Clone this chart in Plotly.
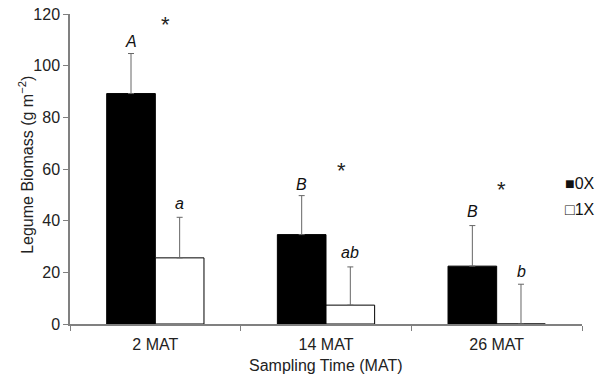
import plotly.graph_objects as go

categories = ["2 MAT", "14 MAT", "26 MAT"]
biomass_0x = [89.2, 34.6, 22.4]
err_0x = [15.5, 15.1, 15.7]
biomass_1x = [25.6, 7.3, 0.0]
err_1x = [15.7, 14.8, 15.4]

letters_0x = ["A", "B", "B"]
letters_0x_y = [109.4, 53.9, 43.4]
letters_1x = ["a", "ab", "b"]
letters_1x_y = [46.5, 27.6, 20.2]
star_x = [0.06, 1.09, 2.03]
star_y = [116, 59.3, 51.9]
legend_names = ["0X", "1X"]

font = "Liberation Sans, Arial, sans-serif"

fig = go.Figure()
fig.add_trace(go.Bar(
    x=categories, y=biomass_0x, name=legend_names[0],
    marker=dict(color="black", line=dict(color="black", width=1)),
    error_y=dict(type="data", array=err_0x, symmetric=False, arrayminus=[0, 0, 0],
                 color="#666666", thickness=1, width=3),
))
fig.add_trace(go.Bar(
    x=categories, y=biomass_1x, name=legend_names[1],
    marker=dict(color="white", line=dict(color="black", width=1)),
    error_y=dict(type="data", array=err_1x, symmetric=False, arrayminus=[0, 0, 0],
                 color="#666666", thickness=1, width=3),
))

ann = []
for i in range(3):
    ann.append(dict(x=i - 0.143, y=letters_0x_y[i], text="<i>" + letters_0x[i] + "</i>", showarrow=False,
                    font=dict(size=16, family=font, color="#111111"), xref="x", yref="y"))
    ann.append(dict(x=i + 0.143, y=letters_1x_y[i], text="<i>" + letters_1x[i] + "</i>", showarrow=False,
                    font=dict(size=16, family=font, color="#111111"), xref="x", yref="y"))
    ann.append(dict(x=star_x[i], y=star_y[i], text="*", showarrow=False,
                    font=dict(size=22, family=font, color="#222222"), xref="x", yref="y"))

# legend drawn as text entries
ann.append(dict(x=1.0, y=54.3, xref="paper", yref="y", text="■" + legend_names[0], showarrow=False,
                xanchor="left", yanchor="middle", font=dict(size=16, family=font, color="#111111"), xshift=-19))
ann.append(dict(x=1.0, y=44.5, xref="paper", yref="y", text="□" + legend_names[1], showarrow=False,
                xanchor="left", yanchor="middle", font=dict(size=16, family=font, color="#111111"), xshift=-19))

# axis titles as text
ann.append(dict(x=0, y=61.6, xref="paper", yref="y", text="Legume Biomass (g m<sup>−2</sup>)",
                textangle=-90, showarrow=False, xanchor="center", yanchor="middle", xshift=-44,
                font=dict(size=16, family=font, color="#222222")))
ann.append(dict(x=0.5, y=0, xref="paper", yref="paper", text="Sampling Time (MAT)",
                showarrow=False, xanchor="center", yanchor="middle", yshift=-41,
                font=dict(size=16, family=font, color="#222222")))

fig.update_layout(
    width=602, height=377,
    margin=dict(l=70, r=20, t=14, b=53),
    plot_bgcolor="white", paper_bgcolor="white",
    barmode="group", bargap=0.43, bargroupgap=0,
    font=dict(family=font, size=16, color="#222222"),
    annotations=ann,
    showlegend=False,
    xaxis=dict(
        automargin=False,
        showline=True, linecolor="#808080", linewidth=1.5,
        ticks="outside", tickson="boundaries", ticklen=5, tickcolor="#808080",
        ticklabelstandoff=5,
        tickfont=dict(size=16), showgrid=False,
    ),
    yaxis=dict(
        automargin=False,
        range=[0, 120], dtick=20,
        showline=True, linecolor="#808080", linewidth=1.5,
        ticks="outside", ticklen=5, tickcolor="#808080",
        tickfont=dict(size=16), showgrid=False, zeroline=False,
    ),
)

fig.write_html("out.html")
